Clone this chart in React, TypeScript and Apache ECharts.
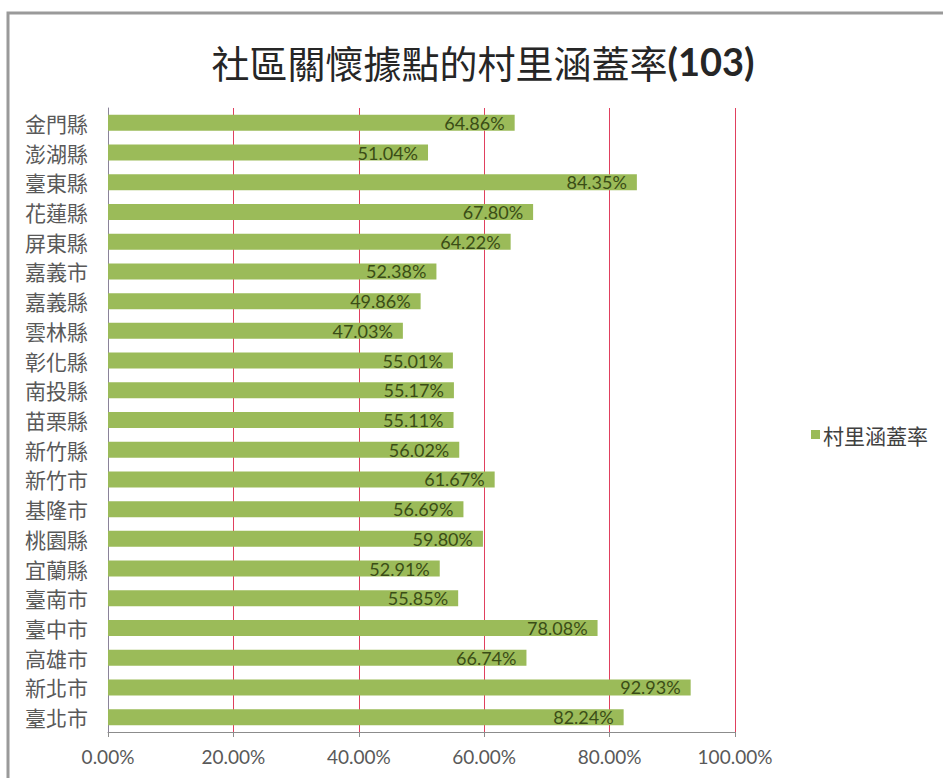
import React, { useEffect, useRef } from "react";
import * as echarts from "echarts";

const TITLE = "社區關懷據點的村里涵蓋率";
const TITLE_YEAR = "(103)";
const SERIES_NAME = "村里涵蓋率";
const categories = [
  "金門縣", "澎湖縣", "臺東縣", "花蓮縣", "屏東縣", "嘉義市", "嘉義縣", "雲林縣",
  "彰化縣", "南投縣", "苗栗縣", "新竹縣", "新竹市", "基隆市", "桃園縣", "宜蘭縣",
  "臺南市", "臺中市", "高雄市", "新北市", "臺北市",
];
const values = [
  64.86, 51.04, 84.35, 67.8, 64.22, 52.38, 49.86, 47.03,
  55.01, 55.17, 55.11, 56.02, 61.67, 56.69, 59.8, 52.91,
  55.85, 78.08, 66.74, 92.93, 82.24,
];
const xTicks = [0, 20, 40, 60, 80, 100];

const LATIN = "Lato, 'Noto Sans CJK TC', sans-serif";
const CJK = "'Noto Sans CJK TC', sans-serif";

export default function App() {
  const ref = useRef<HTMLDivElement>(null);
  useEffect(() => {
    if (!ref.current) return;
    const chart = echarts.init(ref.current, null, { renderer: "svg" });
    chart.setOption({
      animation: false,
      backgroundColor: "#ffffff",
      title: {
        text: `{a|${TITLE}}{b|${TITLE_YEAR}}`,
        left: 478,
        textAlign: "center",
        top: 37,
        textStyle: {
          fontWeight: "normal",
          rich: {
            a: { fontSize: 38, fontFamily: CJK, fontWeight: "normal", color: "#262626" },
            b: { fontSize: 38, fontFamily: LATIN, fontWeight: "bold", color: "#262626" },
          },
        },
      },
      legend: {
        left: 806,
        top: 419,
        icon: "rect",
        itemWidth: 9,
        itemHeight: 9,
        itemGap: 4,
        textStyle: { fontSize: 21, fontFamily: CJK, color: "#404040", padding: [0, 0, 0, -2] },
        data: [SERIES_NAME],
      },
      grid: { left: 108, right: 208, top: 108, bottom: 46, containLabel: false },
      xAxis: {
        type: "value",
        min: xTicks[0],
        max: xTicks[xTicks.length - 1],
        interval: 20,
        axisLine: { show: true, lineStyle: { color: "#8c8c8c", width: 1 } },
        axisTick: { show: true, length: 5, lineStyle: { color: "#8c8c8c" } },
        axisLabel: {
          formatter: (v: number) => v.toFixed(2) + "%",
          fontSize: 19,
          fontFamily: LATIN,
          color: "#595959",
          margin: 15,
        },
        splitLine: { show: true, lineStyle: { color: "#e0405e", width: 1 } },
      },
      yAxis: {
        type: "category",
        inverse: true,
        data: categories,
        axisLine: { show: true, lineStyle: { color: "#8a8399", width: 1 } },
        axisTick: { show: false },
        axisLabel: { fontSize: 21, fontFamily: CJK, color: "#595959", margin: 20 },
      },
      series: [
        {
          name: SERIES_NAME,
          type: "bar",
          data: values,
          barWidth: 16,
          itemStyle: { color: "#9bbb59" },
          label: {
            show: true,
            position: "insideRight",
            distance: 10,
            formatter: (p: any) => p.value.toFixed(2) + "%",
            fontSize: 18,
            fontFamily: LATIN,
            color: "#3a4d16",
          },
        },
      ],
      graphic: [
        {
          type: "rect",
          shape: { x: 8, y: 13, width: 960, height: 800 },
          style: { fill: "none", stroke: "#9a9a9a", lineWidth: 3 },
          silent: true,
        },
      ],
    });
    return () => chart.dispose();
  }, []);
  return (
    <div
      ref={ref}
      style={{ position: "fixed", left: 0, top: 0, width: 943, height: 778 }}
    />
  );
}
